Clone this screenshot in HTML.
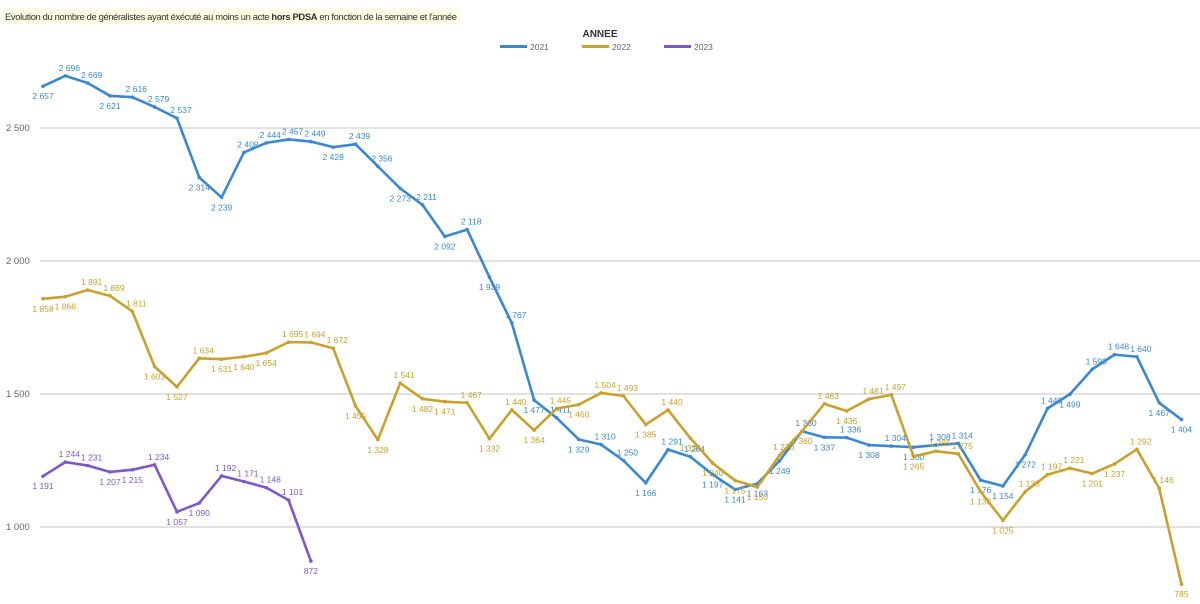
<!DOCTYPE html>
<html><head><meta charset="utf-8"><style>
body{margin:0;background:#fff;width:1200px;height:604px;overflow:hidden;font-family:"Liberation Sans",sans-serif}
#title{position:absolute;left:3px;top:9px;height:15px;line-height:15px;background:#fdfbe0;font-size:9.4px;letter-spacing:-0.35px;color:#333;padding:0 3px 0 2px;white-space:nowrap}
</style></head><body>
<div id="title">Evolution du nombre de généralistes ayant éxécuté au moins un acte <b>hors PDSA</b> en fonction de la semaine et l'année</div>
<svg id="chart" width="1200" height="604" style="position:absolute;left:0;top:0"></svg>
<script>
const yTicks=[1000,1500,2000,2500];
const yTickLabels=["1 000","1 500","2 000","2 500"];
const years=["2021","2022","2023"];
const s2021=[2657,2696,2669,2621,2616,2579,2537,2314,2239,2408,2444,2457,2449,2428,2439,2356,2273,2211,2092,2118,1939,1767,1477,1411,1329,1310,1250,1166,1291,1264,1197,1141,1163,1249,1360,1337,1336,1308,1304,1300,1308,1314,1176,1154,1272,1446,1499,1593,1648,1640,1467,1404];
const s2022=[1858,1866,1891,1869,1811,1603,1527,1634,1631,1640,1654,1695,1694,1672,1455,1328,1541,1482,1471,1467,1332,1440,1364,1445,1460,1504,1493,1385,1440,1334,1240,1175,1150,1270,1360,1463,1436,1481,1497,1265,1285,1275,1133,1025,1133,1197,1221,1201,1237,1292,1146,785];
const s2023=[1191,1244,1231,1207,1215,1234,1057,1090,1192,1171,1148,1101,872];
const colors=["#3a88d2","#c9a12c","#7d57cc"];
const svg=document.getElementById('chart');const NS="http://www.w3.org/2000/svg";
const x=i=>43+i*(1181.5-43)/51;
const y=v=>527-(v-1000)*133/500;
const fmt=v=>{const s=String(v);return s.length>3?s.slice(0,-3)+" "+s.slice(-3):s;};
function mk(t,a){const e=document.createElementNS(NS,t);for(const k in a)e.setAttribute(k,a[k]);svg.appendChild(e);return e;}
yTicks.forEach((t,i)=>{
 const l=mk('line',{x1:40,x2:1200,y1:y(t),y2:y(t),stroke:'#cfcfcf','stroke-width':1.2});
 
 
 const tx=mk('text',{x:6,y:y(t)+3,'font-size':9.5,fill:'#666'});tx.textContent=yTickLabels[i];
 
 
});
const lt=mk('text',{x:600,y:37,'font-size':10,'font-weight':'bold',fill:'#333','text-anchor':'middle'});lt.textContent="ANNEE";


years.forEach((yr,i)=>{
 const lx=500+i*82;
 const g=mk('g',{});
 
 
 const r=document.createElementNS(NS,'rect');r.setAttribute('x',lx);r.setAttribute('y',45);r.setAttribute('width',27);r.setAttribute('height',3);r.setAttribute('fill',colors[i]);g.appendChild(r);
 const t=document.createElementNS(NS,'text');t.setAttribute('x',lx+30);t.setAttribute('y',50);t.setAttribute('font-size',8.5);t.setAttribute('fill','#666');t.textContent=yr;g.appendChild(t);
});
[s2021,s2022,s2023].forEach((s,si)=>{
 const p=mk('polyline',{points:s.map((v,i)=>x(i)+","+y(v)).join(" "),fill:'none',stroke:colors[si],'stroke-width':2.6,'stroke-linejoin':'round'});
 
 
 s.forEach((v,i)=>{
  const c=mk('circle',{cx:x(i),cy:y(v),r:1.8,fill:colors[si]});
  
  
  const prev=i>0?s[i-1]:v,next=i<s.length-1?s[i+1]:v;
  const above=v>=(prev+next)/2;
  const t=mk('text',{x:x(i)+(above?4:0),y:above?y(v)-5:y(v)+13,'font-size':8.5,fill:colors[si],'text-anchor':above?'middle':'middle'});
  t.textContent=fmt(v);
  
  
 });
});
</script>
</body></html>
